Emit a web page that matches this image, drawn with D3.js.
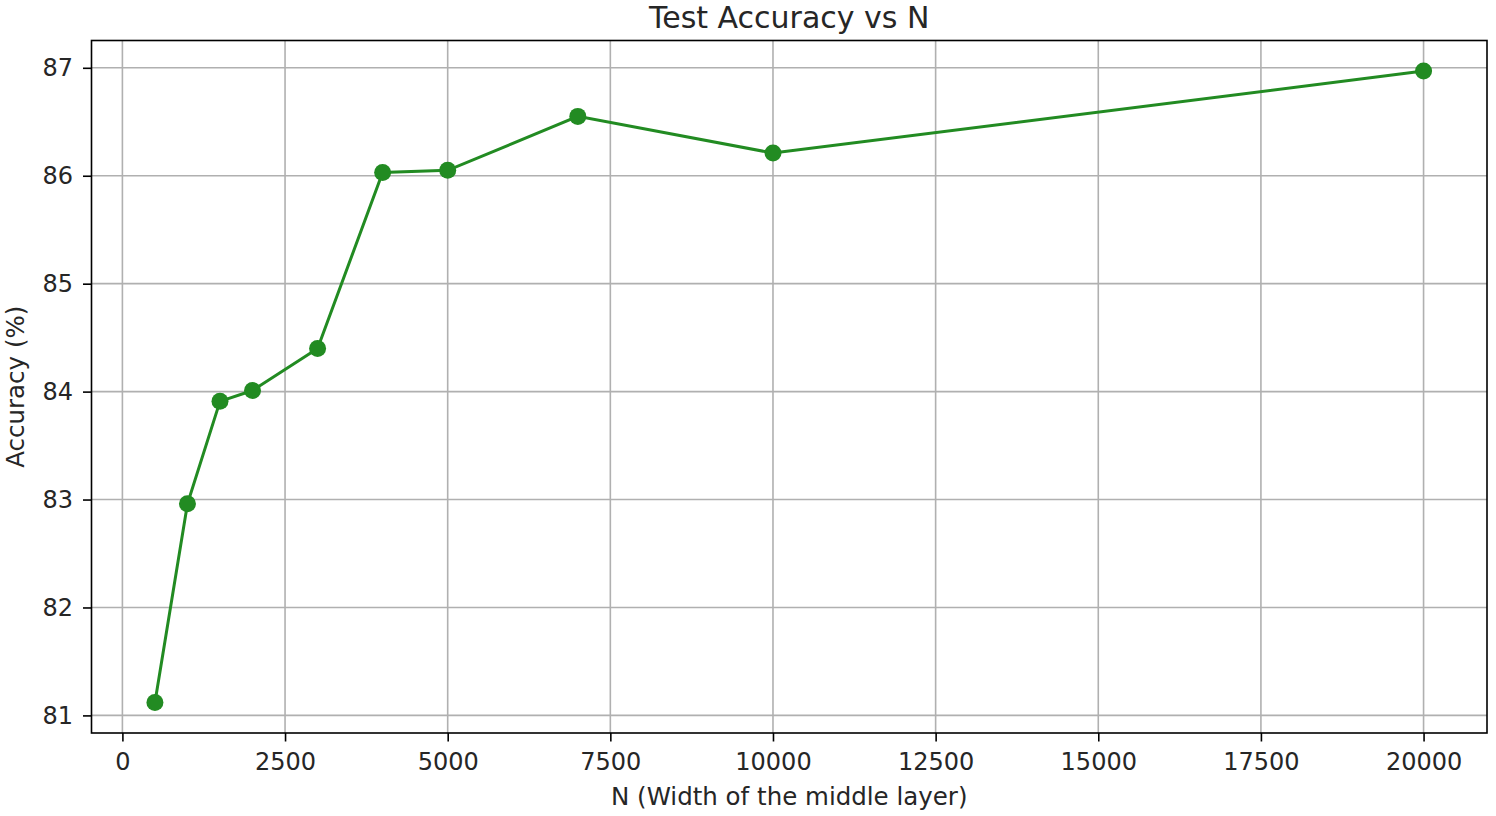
<!DOCTYPE html>
<html><head><meta charset="utf-8">
<script src="https://cdn.jsdelivr.net/npm/d3@7"></script>
<style>body{margin:0;background:#fff}svg{display:block}text{font-family:"DejaVu Sans",sans-serif;fill:#262626}</style>
</head><body><svg id="c" width="1496" height="816"></svg>
<script>
const nValues = [500, 1000, 1500, 2000, 3000, 4000, 5000, 7000, 10000, 20000];
const accuracy = [81.12, 82.96, 83.91, 84.01, 84.40, 86.03, 86.05, 86.55, 86.21, 86.97];
const xTicks = [0, 2500, 5000, 7500, 10000, 12500, 15000, 17500, 20000];
const yTicks = [81, 82, 83, 84, 85, 86, 87];
const title = "Test Accuracy vs N";
const xLabel = "N (Width of the middle layer)";
const yLabel = "Accuracy (%)";

const svg = d3.select("#c");
const L = 91.5, R = 1487, T = 40.5, B = 733;
const x = d3.scaleLinear().domain([-475, 20975]).range([L, R]);
const y = d3.scaleLinear().domain([80.837, 87.253]).range([B, T]);

// grid
svg.append("g").selectAll("line").data(xTicks).join("line")
  .attr("x1", d => x(d)).attr("x2", d => x(d)).attr("y1", T).attr("y2", B)
  .attr("stroke", "#b0b0b0").attr("stroke-width", 1.6);
svg.append("g").selectAll("line").data(yTicks).join("line")
  .attr("y1", d => y(d)).attr("y2", d => y(d)).attr("x1", L).attr("x2", R)
  .attr("stroke", "#b0b0b0").attr("stroke-width", 1.6);

// axes
const xa = svg.append("g").attr("transform", `translate(0,${B})`)
  .call(d3.axisBottom(x).tickValues(xTicks).tickFormat(d3.format("d")).tickSize(8.5).tickPadding(11));
const ya = svg.append("g").attr("transform", `translate(${L},0)`)
  .call(d3.axisLeft(y).tickValues(yTicks).tickFormat(d3.format("d")).tickSize(8.5).tickPadding(10));
[xa, ya].forEach(a => {
  a.select(".domain").remove();
  a.selectAll("line").attr("stroke", "#000").attr("stroke-width", 1.6);
  a.selectAll("text").attr("font-size", 24).attr("font-family", "DejaVu Sans").attr("fill", "#262626");
});

// frame
svg.append("rect").attr("x", L).attr("y", T).attr("width", R - L).attr("height", B - T)
  .attr("fill", "none").attr("stroke", "#000").attr("stroke-width", 1.6);

// line
svg.append("path").datum(nValues.map((n, i) => [n, accuracy[i]]))
  .attr("d", d3.line().x(d => x(d[0])).y(d => y(d[1])))
  .attr("fill", "none").attr("stroke", "#228b22").attr("stroke-width", 3);
svg.append("g").selectAll("circle").data(nValues).join("circle")
  .attr("cx", d => x(d)).attr("cy", (d, i) => y(accuracy[i])).attr("r", 8.5)
  .attr("fill", "#228b22");

// labels
svg.append("text").attr("x", (L + R) / 2).attr("y", 28).attr("text-anchor", "middle")
  .attr("font-size", 30).text(title);
svg.append("text").attr("x", (L + R) / 2).attr("y", 805).attr("text-anchor", "middle")
  .attr("font-size", 24.5).text(xLabel);
svg.append("text").attr("transform", `translate(24,${(T + B) / 2}) rotate(-90)`).attr("text-anchor", "middle")
  .attr("font-size", 24.5).text(yLabel);
</script></body></html>
